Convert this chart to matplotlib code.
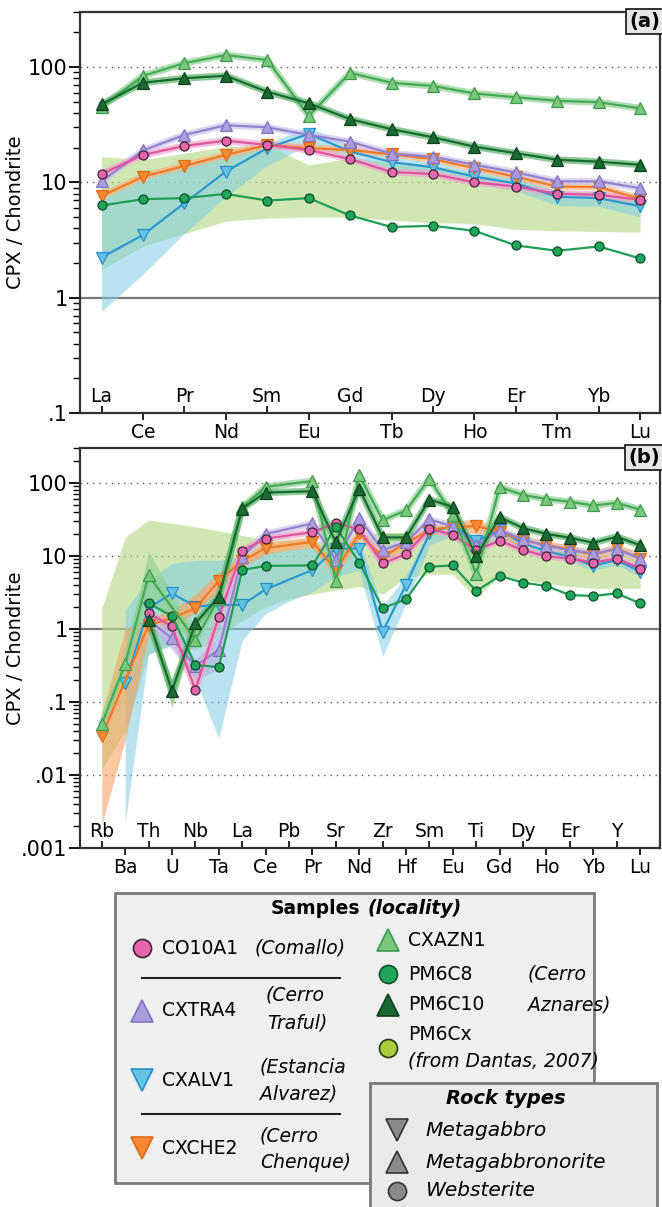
import numpy as np
import matplotlib.pyplot as plt
from matplotlib.patches import Rectangle
from matplotlib.ticker import LogLocator, NullFormatter

plt.rcParams['font.family'] = ['DejaVu Sans']

nan = np.nan

# ---- panel (a): REE / chondrite ----
ree = ['La', 'Ce', 'Pr', 'Nd', 'Sm', 'Eu', 'Gd', 'Tb', 'Dy', 'Ho', 'Er', 'Tm', 'Yb', 'Lu']

a_co10a1 = [11.8, 17.3, 20.7, 23.0, 21.1, 19.1, 15.9, 12.3, 11.8, 10.0, 9.2, 7.95, 7.8, 7.05]
a_cxtra4 = [10.2, 18.9, 25.8, 31.3, 30.0, 25.8, 22.5, 17.7, 16.7, 14.2, 12.2, 10.2, 10.2, 8.9]
a_cxalv1 = [2.23, 3.5, 6.6, 12.4, 19.8, 26.3, 18.5, 15.0, 13.5, 11.2, 9.8, 7.5, 7.3, 6.2]
a_cxche2 = [7.6, 11.2, 13.9, 17.3, 21.1, 19.8, 19.1, 17.5, 15.9, 13.3, 11.2, 9.2, 9.1, 7.2]
a_cxazn1 = [45, 84, 108, 127, 115, 37.7, 89, 73, 68.5, 59, 54.7, 51, 49.5, 43.9]
a_pm6c8 = [6.3, 7.15, 7.3, 7.95, 6.95, 7.3, 5.16, 4.1, 4.2, 3.8, 2.84, 2.55, 2.78, 2.19]
a_pm6c10 = [47.5, 73, 80, 84, 61, 48.5, 35.3, 28.9, 24.6, 20.4, 17.9, 15.7, 15.1, 14.2]

a_pm6cx_lo = [1.75, 2.8, 3.6, 4.6, 4.9, 5.0, 5.0, 4.7, 4.45, 4.4, 3.9, 3.8, 3.75, 3.7]
a_pm6cx_hi = [16.7, 15.7, 17.9, 20.4, 21.0, 14.2, 16.2, 15.0, 14.0, 12.0, 10.5, 8.5, 8.0, 6.8]
a_cxalv1_lo = [0.76, 1.6, 3.6, 7.5, 14.0, 21.0, 16.0, 13.0, 12.0, 9.8, 8.5, 6.3, 6.2, 5.0]
a_cxalv1_hi = [7.0, 11.0, 14.0, 17.0, 22.0, 30.0, 21.0, 16.5, 15.0, 12.5, 11.0, 8.5, 8.3, 7.0]

# ---- panel (b): multi-element / chondrite ----
ele = ['Rb', 'Ba', 'Th', 'U', 'Nb', 'Ta', 'La', 'Ce', 'Pb', 'Pr', 'Sr', 'Nd',
       'Zr', 'Hf', 'Sm', 'Eu', 'Ti', 'Gd', 'Dy', 'Ho', 'Er', 'Yb', 'Y', 'Lu']

b_co10a1 = [nan, nan, 1.64, 1.08, 0.147, 1.47, 11.8, 17.2, nan, 21.2, 27.8, 23.2,
            7.9, 10.6, 23.7, 19.2, 12.0, 16.1, 12.0, 9.9, 9.2, 8.1, 9.2, 6.7]
b_cxtra4 = [nan, nan, 1.33, 0.74, 0.31, 0.52, 9.7, 19.9, nan, 27.8, 8.8, 32.5,
            12.0, 15.5, 31.5, 25.5, 14.0, 22.5, 16.8, 13.6, 12.0, 10.8, 12.3, 9.2]
b_cxalv1 = [nan, 0.18, 1.92, 3.07, 2.02, 2.13, 2.13, 3.48, nan, 6.4, 12.6, 12.6,
            0.92, 4.0, 20.3, 26.3, 16.1, 22.5, 14.8, 11.6, 9.7, 7.3, 8.8, 6.1]
b_cxche2 = [0.034, nan, 1.13, 1.4, 1.92, 4.57, 8.5, 12.7, nan, 15.6, 6.4, 20.3,
            9.7, 15.1, 22.5, 25.0, 25.5, 21.4, 16.4, 14.0, 12.3, 10.3, 12.7, 9.2]
b_cxazn1 = [0.05, 0.33, 5.4, nan, 0.71, 2.6, 46, 88, nan, 106, 4.5, 127,
            30.8, 42, 114, 36, 5.6, 88, 68, 60, 55, 49, 53, 43]
b_pm6c8 = [nan, nan, 2.24, 1.5, 0.32, 0.30, 6.4, 7.3, nan, 7.4, 25, 8.1,
           1.92, 2.54, 7.1, 7.4, 3.3, 5.3, 4.3, 3.87, 2.91, 2.82, 3.07, 2.24]
b_pm6c10 = [nan, nan, 1.33, 0.142, 1.19, 2.77, 44.5, 73.6, nan, 76.8, 15.3, 83.5,
            17.9, 17.9, 59, 47, 9.9, 34, 24, 20, 17.7, 15.1, 18.3, 14]

b_pm6cx_lo = [0.012, 0.04, 0.45, 0.6, 0.5, 0.8, 1.3, 2.0, 2.6, 3.0, 3.4, 3.8,
              3.0, 5.0, 5.6, 5.6, 2.6, 5.3, 4.7, 4.2, 3.8, 3.6, 3.6, 3.6]
b_pm6cx_hi = [1.9, 18, 31, 28, 25, 22, 19, 17, 16, 15.6, 16.4, 19.2,
              21, 21, 23.7, 22, 12.0, 20, 16.4, 14, 12.3, 10.8, 11.4, 8.3]
b_cxalv1_lo = [nan, 0.0022, 0.45, 0.6, 0.2, 0.032, 0.7, 1.6, 2.4, 3.2, 5.2, 6.4,
               0.42, 2.2, 14, 19, 11, 17, 12.5, 10, 8.3, 6.3, 7.5, 5.2]
b_cxalv1_hi = [nan, 1.8, 4.7, 7.9, 8.7, 8.7, 10, 11, 12, 13, 16, 16,
               2.0, 5.5, 23, 28, 18, 24, 16.5, 13, 11, 8.3, 10, 7]
b_cxche2_lo = [0.0021, 0.03, 0.8, 1.0, 1.7, 3.3, 7, 10.5, 12, 13, 5, 17.5,
               8, 13, 19, 21, 20, 17, 14, 12, 10.5, 8.8, 11, 7.8]
b_cxche2_hi = [0.07, 1.0, 1.4, 1.8, 3.0, 6.0, 10, 15, 17, 18, 8, 23,
               12, 17, 26, 30, 32, 24, 19, 16, 14, 12, 14.5, 11]

# short extra spreads in (b): element index, low, high
b_cxtra4_idx = [2, 3, 4, 5, 6]
b_cxtra4_lo = [1.1, 0.52, 0.2, 0.28, 8]
b_cxtra4_hi = [1.7, 1.08, 0.38, 0.79, 11]
b_pm6c10_idx = [2, 3, 4]
b_pm6c10_lo = [1.2, 0.085, 1.0]
b_pm6c10_hi = [1.5, 0.2, 1.35]
b_cxazn1_idx = [1, 2, 4]
b_cxazn1_lo = [0.25, 2.5, 0.6]
b_cxazn1_hi = [0.42, 11.5, 0.85]

styles = {
    'CO10A1': dict(marker='o', ms=6.5, line='#e0539d', mfc='#e665ab', mec='#3b2433', halo='#f2a6cc'),
    'CXTRA4': dict(marker='^', ms=8, line='#9282cf', mfc='#ab9ddb', mec='#8272c4', halo='#cdc5ec'),
    'CXALV1': dict(marker='v', ms=8, line='#2b98d2', mfc='#62c3e4', mec='#2a8fc8', halo=None),
    'CXCHE2': dict(marker='v', ms=8, line='#ef7b27', mfc='#f68a33', mec='#e06a15', halo='#f7b27f'),
    'CXAZN1': dict(marker='^', ms=8, line='#44aa55', mfc='#79c77b', mec='#3d9a4c', halo='#8fd092'),
    'PM6C8': dict(marker='o', ms=6.5, line='#1e9e55', mfc='#1fa65a', mec='#0b4d26', halo=None),
    'PM6C10': dict(marker='^', ms=8, line='#166a30', mfc='#1a6b33', mec='#0d3f1c', halo='#5cb46a'),
}
band_pm6cx = '#b8d98a'
band_blue = '#7fcde3'
band_orange = '#f5a262'

W, H = 662, 1207
fig = plt.figure(figsize=(W / 100, H / 100), dpi=100)


def px_axes(x0, y0, x1, y1):
    return fig.add_axes([x0 / W, 1 - y1 / H, (x1 - x0) / W, (y1 - y0) / H])


def plot_sample(ax, vals, name):
    st = styles[name]
    v = np.array(vals, dtype=float)
    x = np.arange(len(v))
    m = ~np.isnan(v)
    if st['halo']:
        ax.plot(x[m], v[m], color=st['halo'], lw=5, alpha=0.7,
                solid_joinstyle='round', solid_capstyle='round', zorder=3)
    ax.plot(x[m], v[m], color=st['line'], lw=1.6, marker=st['marker'], ms=st['ms'],
            mfc=st['mfc'], mec=st['mec'], mew=0.9, zorder=4)


def setup(ax, labels, xlim, ymin, yticks, ylabels, dotted, tag):
    n = len(labels)
    ax.set_yscale('log')
    ax.set_ylim(ymin, 300)
    ax.set_xlim(*xlim)
    ax.set_yticks(yticks, labels=ylabels)
    ax.yaxis.set_minor_locator(LogLocator(base=10, subs=np.arange(2, 10), numticks=50))
    ax.yaxis.set_minor_formatter(NullFormatter())
    ax.tick_params(axis='y', which='major', length=8, width=1.3, pad=1, labelsize=15)
    ax.tick_params(axis='y', which='minor', length=5, width=1.0)
    ax.set_xticks(range(0, n, 2), labels=labels[0::2])
    ax.set_xticks(range(1, n, 2), labels=labels[1::2], minor=True)
    ax.tick_params(axis='x', which='major', direction='in', length=5, width=1.2,
                   pad=-19, labelsize=13.5)
    ax.tick_params(axis='x', which='minor', direction='out', length=5, width=1.2,
                   pad=2, labelsize=13.5)
    for v in dotted:
        ax.axhline(v, ls=(0, (1, 3.5)), color='#555555', lw=1, zorder=1)
    ax.axhline(1, color='#7a7a7a', lw=1.6, zorder=1)
    for s in ax.spines.values():
        s.set_linewidth(1.6)
        s.set_color('#333333')
    ax.set_ylabel('CPX / Chondrite', fontsize=14)
    ax.yaxis.set_label_coords(-0.095, 0.5)
    ax.text(1, 1, tag, transform=ax.transAxes, ha='right', va='top', fontsize=14,
            fontweight='bold', zorder=10,
            bbox=dict(boxstyle='square,pad=0.15', fc='#e6e6e6', ec='#222222', lw=1.3))


order = ['CXALV1', 'CXCHE2', 'CXTRA4', 'CO10A1', 'PM6C8', 'CXAZN1', 'PM6C10']

# panel (a)
ax_a = px_axes(80, 12, 660, 413)
xa = np.arange(len(ree))
ax_a.fill_between(xa, a_pm6cx_lo, a_pm6cx_hi, color=band_pm6cx, alpha=0.65, lw=0, zorder=2)
ax_a.fill_between(xa, a_cxalv1_lo, a_cxalv1_hi, color=band_blue, alpha=0.55, lw=0, zorder=2)
series_a = {'CO10A1': a_co10a1, 'CXTRA4': a_cxtra4, 'CXALV1': a_cxalv1, 'CXCHE2': a_cxche2,
            'CXAZN1': a_cxazn1, 'PM6C8': a_pm6c8, 'PM6C10': a_pm6c10}
for name in order:
    plot_sample(ax_a, series_a[name], name)
setup(ax_a, ree, (-0.52, 13.48), 0.1, [0.1, 1, 10, 100], ['.1', '1', '10', '100'],
      [10, 100], '(a)')

# panel (b)
ax_b = px_axes(80, 448, 660, 848)
xb = np.arange(len(ele))
ax_b.fill_between(xb, b_pm6cx_lo, b_pm6cx_hi, color=band_pm6cx, alpha=0.65, lw=0, zorder=2)
ax_b.fill_between(xb, b_cxalv1_lo, b_cxalv1_hi, color=band_blue, alpha=0.55, lw=0, zorder=2)
ax_b.fill_between(xb, b_cxche2_lo, b_cxche2_hi, color=band_orange, alpha=0.6, lw=0, zorder=2)
ax_b.fill_between(b_cxtra4_idx, b_cxtra4_lo, b_cxtra4_hi, color='#b7aee3', alpha=0.6, lw=0, zorder=2)
ax_b.fill_between(b_pm6c10_idx, b_pm6c10_lo, b_pm6c10_hi, color='#5cb46a', alpha=0.6, lw=0, zorder=2)
ax_b.fill_between(b_cxazn1_idx, b_cxazn1_lo, b_cxazn1_hi, color='#8fd092', alpha=0.6, lw=0, zorder=2)
series_b = {'CO10A1': b_co10a1, 'CXTRA4': b_cxtra4, 'CXALV1': b_cxalv1, 'CXCHE2': b_cxche2,
            'CXAZN1': b_cxazn1, 'PM6C8': b_pm6c8, 'PM6C10': b_pm6c10}
for name in order:
    plot_sample(ax_b, series_b[name], name)
setup(ax_b, ele, (-0.93, 23.85), 0.001, [0.001, 0.01, 0.1, 1, 10, 100],
      ['.001', '.01', '.1', '1', '10', '100'], [0.01, 0.1, 10, 100], '(b)')

# legend, drawn in pixel coordinates
lg = fig.add_axes([0, 0, 1, 1])
lg.set_xlim(0, W)
lg.set_ylim(H, 0)
lg.axis('off')

lg.add_patch(Rectangle((115, 893), 479, 290, fc='#eef0f0', ec='#7a7a7a', lw=2))
lg.text(360, 909, 'Samples', ha='right', va='center', fontsize=13.5, fontweight='bold')
lg.text(368, 909, '(locality)', ha='left', va='center', fontsize=13.5,
        fontweight='bold', style='italic')

fs = 13.5


def entry(name, x, y):
    st = styles[name]
    ms = 13 if st['marker'] == 'o' else 16
    lg.plot([x], [y], marker=st['marker'], ms=ms, mfc=st['mfc'], mec=st['mec'], mew=1.2)
    lg.text(x + 20, y, name, ha='left', va='center', fontsize=fs)


entry('CO10A1', 142, 948)
lg.text(255, 948, '(Comallo)', ha='left', va='center', fontsize=fs, style='italic')
lg.plot([142, 340], [978, 978], color='#222222', lw=1.5)
entry('CXTRA4', 142, 1011)
lg.text(266, 995, '(Cerro', ha='left', va='center', fontsize=fs, style='italic')
lg.text(267, 1023, 'Traful)', ha='left', va='center', fontsize=fs, style='italic')
entry('CXALV1', 142, 1080)
lg.text(260, 1067, '(Estancia', ha='left', va='center', fontsize=fs, style='italic')
lg.text(260, 1094, 'Alvarez)', ha='left', va='center', fontsize=fs, style='italic')
lg.plot([142, 340], [1114, 1114], color='#222222', lw=1.5)
entry('CXCHE2', 142, 1148)
lg.text(260, 1136, '(Cerro', ha='left', va='center', fontsize=fs, style='italic')
lg.text(260, 1163, 'Chenque)', ha='left', va='center', fontsize=fs, style='italic')

entry('CXAZN1', 388, 940)
entry('PM6C8', 388, 974)
entry('PM6C10', 388, 1005)
lg.plot([388], [1048], marker='o', ms=13, mfc='#a8cc3a', mec='#2b3a10', mew=1.2)
lg.text(408, 1034, 'PM6Cx', ha='left', va='center', fontsize=fs)
lg.text(408, 1061, '(from Dantas, 2007)', ha='left', va='center', fontsize=fs, style='italic')
lg.text(528, 974, '(Cerro', ha='left', va='center', fontsize=fs, style='italic')
lg.text(528, 1005, 'Aznares)', ha='left', va='center', fontsize=fs, style='italic')

lg.add_patch(Rectangle((370, 1083), 287, 140, fc='#e8eaeb', ec='#7a7a7a', lw=2))
lg.text(506, 1099, 'Rock types', ha='center', va='center', fontsize=14,
        fontweight='bold', style='italic')
rocks = [('v', 'Metagabbro', 1130), ('^', 'Metagabbronorite', 1162), ('o', 'Websterite', 1191)]
for mk, lab, y in rocks:
    lg.plot([397], [y], marker=mk, ms=13 if mk == 'o' else 16, mfc='#8a8a8a', mec='#333333', mew=1.2)
    lg.text(425, y, lab, ha='left', va='center', fontsize=14.5, style='italic')

fig.savefig('out.png', dpi=100)
